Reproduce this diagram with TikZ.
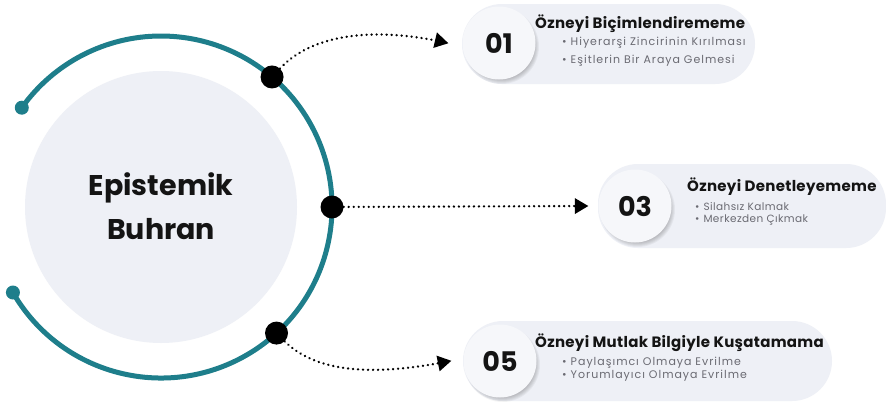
\documentclass[tikz,border=0pt]{standalone}
\usepackage{fontspec}
\setmainfont{Poppins}
\usetikzlibrary{calc,decorations.markings}
\definecolor{tealc}{HTML}{1E7E8B}
\definecolor{corec}{HTML}{EEF0F6}
\definecolor{pillc}{HTML}{EEF0F6}
\definecolor{numc}{HTML}{F6F7FA}
\definecolor{titlec}{HTML}{141414}
\definecolor{itemc}{HTML}{6A6A72}
\tikzset{
  pill/.style={draw=none, fill=pillc, rounded corners=40pt},
  numcirc/.style={circle, fill=numc, minimum size=73pt, inner sep=0pt,
    font=\bfseries\fontsize{27}{32}\selectfont, text=titlec},
  blackdot/.style={circle, fill=black, minimum size=23pt, inner sep=0pt},
  enddot/.style={circle, fill=tealc, minimum size=14pt, inner sep=0pt},
  conn/.style={line width=2.6pt, line cap=round, dash pattern=on 0.01pt off 5pt,
    postaction={decorate, decoration={markings, mark=at position 1 with
      {\fill[black] (1,0) -- (-12.5,-8) -- (-12.5,8) -- cycle;}}}},
  ttl/.style={anchor=base west, font=\bfseries\fontsize{15}{17}\selectfont\addfontfeatures{LetterSpace=2}, text=titlec, inner sep=0pt},
  itm/.style={anchor=base west, font=\fontsize{11}{13}\selectfont\addfontfeatures{LetterSpace=9}, text=itemc, inner sep=0pt},
  itmsmall/.style={anchor=base west, font=\fontsize{10.5}{12}\selectfont\addfontfeatures{LetterSpace=4}, text=itemc, inner sep=0pt},
}
\newcommand{\softshadow}[2]{%
  \foreach \k in {0,1,...,5}{\fill[black, opacity=0.045] ($(#1)+(2.5,3.5)$) circle[radius=#2+1-\k];}}
\begin{document}
\begin{tikzpicture}[x=1pt,y=-1pt]
\useasboundingbox (0,0) rectangle (886,407);
\fill[white] (0,0) rectangle (886,407);

% core
\node[circle, fill=corec, minimum size=272pt, inner sep=0pt] (core) at (161,207) {};
\node[align=center, font=\bfseries\fontsize{28.5}{44}\selectfont, text=titlec] (coretxt) at (161,206) {Epistemik\\Buhran};

% teal arc
\coordinate (arcA) at ($(core.center)+(150:171)$);
\coordinate (arcB) at ($(core.center)+(-144.5:171)$);
\draw[tealc, line width=5pt] (arcA) arc[start angle=150, end angle=-144.5, radius=171];
\node[enddot] (e1) at (arcA) {};
\node[enddot] (e2) at (arcB) {};

% pills
\fill[pill] (462,4) rectangle (755,84);
\fill[pill] (598,164) rectangle (886,248);
\fill[pill] (463,321) rectangle (832,401);

% number circles
\coordinate (c1) at (499,43);
\coordinate (c2) at (635,206);
\coordinate (c3) at (500,361);
\softshadow{c1}{36.5}
\softshadow{c2}{36.5}
\softshadow{c3}{36.5}
\node[numcirc] (n1) at (c1) {01};
\node[numcirc] (n2) at (c2) {03};
\node[numcirc] (n3) at (c3) {05};

% black dots
\node[blackdot] (d1) at ($(core.center)+(-49.5:171)$) {};
\node[blackdot] (d2) at ($(core.center)+(0:171)$) {};
\node[blackdot] (d3) at ($(core.center)+(47.5:171)$) {};

% arrow tip points
\coordinate (a1) at ($(n1.west)+(-15,0)$);
\coordinate (a2) at ($(n2.west)+(-11,0)$);
\coordinate (a3) at ($(n3.west)+(-13,0)$);

% connectors
\draw[conn] (d1) .. controls +(45,-48) and +(-60,-14) .. (a1);
\draw[conn] (d2) -- (a2);
\draw[conn] (d3) .. controls +(45,45) and +(-60,12) .. (a3);

% texts
\node[ttl] (t1) at (535,28) {Özneyi Biçimlendirememe};
\node[itm] (t1a) at (562,45) {•\hspace{4pt}Hiyerarşi Zincirinin Kırılması};
\node[itm] (t1b) at (562,63) {•\hspace{4pt}Eşitlerin Bir Araya Gelmesi};

\node[ttl] (t2) at (687,191) {Özneyi Denetleyememe};
\node[itmsmall] (t2a) at (695,210) {•\hspace{4pt}Silahsız Kalmak};
\node[itmsmall] (t2b) at (695,222) {•\hspace{4pt}Merkezden Çıkmak};

\node[ttl] (t3) at (535,347) {Özneyi Mutlak Bilgiyle Kuşatamama};
\node[itm] (t3a) at (562,365) {•\hspace{4pt}Paylaşımcı Olmaya Evrilme};
\node[itm] (t3b) at (562,378) {•\hspace{4pt}Yorumlayıcı Olmaya Evrilme};
\end{tikzpicture}
\end{document}
